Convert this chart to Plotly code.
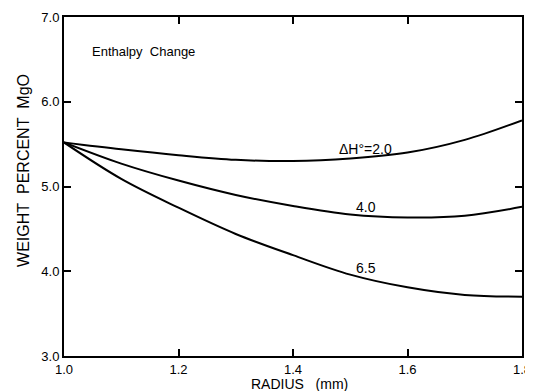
import plotly.graph_objects as go

radius = [1.0, 1.1, 1.2, 1.3, 1.4, 1.5, 1.6, 1.7, 1.8]
mgo_dh_2_0 = [5.52, 5.44, 5.37, 5.315, 5.30, 5.33, 5.40, 5.55, 5.78]
mgo_dh_4_0 = [5.52, 5.27, 5.07, 4.90, 4.77, 4.67, 4.635, 4.655, 4.76]
mgo_dh_6_5 = [5.52, 5.09, 4.75, 4.44, 4.19, 3.96, 3.81, 3.72, 3.70]
series_names = ["ΔH°=2.0", "4.0", "6.5"]
x_ticks = [1.0, 1.2, 1.4, 1.6, 1.8]
x_ticklabels = ["1.0", "1.2", "1.4", "1.6", "1.8"]
y_ticks = [3.0, 4.0, 5.0, 6.0, 7.0]
y_ticklabels = ["3.0", "4.0", "5.0", "6.0", "7.0"]

FONT = "Liberation Sans, Arial, sans-serif"

# page has an 8px body margin; plot area in page pixels: x 64..531, y 15..356
PW, PH = 467, 341

fig = go.Figure()
for name, ys in zip(series_names, [mgo_dh_2_0, mgo_dh_4_0, mgo_dh_6_5]):
    fig.add_trace(go.Scatter(
        x=radius, y=ys, mode="lines", name=name,
        line=dict(color="black", width=2, shape="spline", smoothing=1.0),
        showlegend=False,
    ))

# curve labels
label_pos = [(1.527, 5.44), (1.527, 4.76), (1.527, 4.04)]
for name, (lx, ly) in zip(series_names, label_pos):
    fig.add_annotation(x=lx, y=ly, text=name, showarrow=False,
                       font=dict(family=FONT, size=14, color="black"),
                       xanchor="center", yanchor="middle")

fig.add_annotation(x=1.046, y=6.59, text="Enthalpy\u00a0\u00a0Change", showarrow=False,
                   font=dict(family=FONT, size=13, color="black"),
                   xanchor="left", yanchor="middle")

# axis titles
fig.add_annotation(xref="paper", yref="paper", x=(22 - 64) / PW, y=(356 - 169) / PH,
                   text="WEIGHT\u00a0\u00a0PERCENT\u00a0\u00a0MgO", textangle=-90, showarrow=False,
                   font=dict(family=FONT, size=16, color="black"),
                   xanchor="center", yanchor="middle")
fig.add_annotation(xref="paper", yref="paper", x=(304 - 64) / PW, y=-(384.5 - 356) / PH,
                   text="RADIUS\u00a0\u00a0\u00a0(mm)", showarrow=False,
                   font=dict(family=FONT, size=14, color="black"),
                   xanchor="center", yanchor="middle")

axis_common = dict(
    showgrid=False, zeroline=False, showline=True, linecolor="black", linewidth=2,
    mirror="ticks", ticks="inside", ticklen=7, tickwidth=2, tickcolor="black",
    tickfont=dict(family=FONT, size=13, color="black"),
    ticklabeloverflow="allow",
)

fig.update_xaxes(range=[1.0, 1.8], tickvals=x_ticks, ticktext=x_ticklabels, **axis_common)
fig.update_yaxes(range=[3.0, 7.0], tickvals=y_ticks, ticktext=y_ticklabels, **axis_common)

fig.update_layout(
    width=525, height=383,
    margin=dict(l=56, r=2, t=7, b=35),
    paper_bgcolor="white", plot_bgcolor="white",
    font=dict(family=FONT, color="black"),
)

fig.write_html("out.html")
